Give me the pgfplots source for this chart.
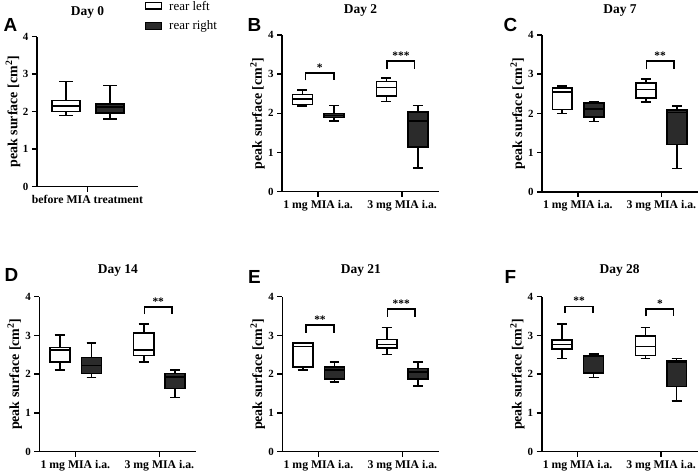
\documentclass[border=0pt]{standalone}
\usepackage{pgfplots}
\pgfplotsset{compat=1.18}
\usepgfplotslibrary{statistics}
\usepackage{fontspec}
\setmainfont{Liberation Serif}
\newfontfamily\panelfont{Liberation Sans}
\definecolor{darkbox}{HTML}{2B2B2B}

\pgfplotsset{
  panel/.style={
    scale only axis, width=157bp, height=156.7bp,
    xmin=0.5, xmax=2.5, ymin=0, ymax=4,
    axis x line*=bottom, axis y line*=left,
    axis line style={line width=1.6bp, black},
    xtick={0.96,2.03}, xticklabels={1 mg MIA i.a., 3 mg MIA i.a.},
    ytick={0,1,2,3,4},
    tick align=outside, major tick length=5bp,
    tick style={line width=1.5bp, black},
    tick label style={font=\bfseries\fontsize{11}{12}\selectfont},
    xticklabel style={font=\bfseries\fontsize{11.8}{13}\selectfont},
    /pgf/number format/assume math mode=true,
    ylabel={peak surface [cm\textsuperscript{2}]},
    ylabel style={font=\bfseries\fontsize{14}{16}\selectfont, at={(axis description cs:-0.156,0.5)}, anchor=center},
    clip=false,
    boxplot/draw direction=y,
    anchor=south west,
  },
  ttop/.style={every axis title/.style={font=\bfseries\fontsize{13.5}{15}\selectfont, at={(axis description cs:0.5,1)}, anchor=center, yshift=24bp}},
  tbot/.style={every axis title/.style={font=\bfseries\fontsize{13.5}{15}\selectfont, at={(axis description cs:0.5,1)}, anchor=center, yshift=26bp}},
  wbox/.style={draw=black, fill=white, line width=1.6bp, solid},
  dbox/.style={draw=black, fill=darkbox, line width=1.6bp, solid},
  brk/.style={black, line width=1.5bp, solid, no marks},
}
\newcommand{\bx}[7]{\addplot[#1, boxplot prepared={lower whisker=#3, lower quartile=#4, median=#5, upper quartile=#6, upper whisker=#7, draw position=#2, box extend=0.255, whisker extend=0.127}] coordinates {};}
\newcommand{\sig}[2]{\node[font=\bfseries\fontsize{11.5}{12}\selectfont, anchor=base, inner sep=0pt, yshift=1.5bp] at (axis cs:#1) {#2};}

\begin{document}
\begin{tikzpicture}[x=1bp,y=1bp]
\useasboundingbox (0,0) rectangle (700,475);

% ---------------- A ----------------
\begin{axis}[panel, ttop, at={(37bp,288.3bp)}, width=101bp, height=150bp,
  xmin=0.5, xmax=1.5, xtick={1}, xticklabels={before MIA treatment},
  ylabel style={at={(axis description cs:-0.238,0.5)}},
  title={Day 0}]
\addplot[wbox, boxplot prepared={lower whisker=1.9, lower quartile=2.0, median=2.15, upper quartile=2.3, upper whisker=2.8, draw position=0.787, box extend=0.277, whisker extend=0.13}] coordinates {};
\addplot[dbox, boxplot prepared={lower whisker=1.8, lower quartile=1.97, median=2.12, upper quartile=2.2, upper whisker=2.7, draw position=1.223, box extend=0.277, whisker extend=0.13}] coordinates {};
\end{axis}

% ---------------- B ----------------
\begin{axis}[panel, ttop, at={(282bp,283.3bp)}, title={Day 2}]
\bx{wbox}{0.76}{2.19}{2.23}{2.37}{2.48}{2.6}
\bx{dbox}{1.165}{1.8}{1.89}{1.94}{2.0}{2.2}
\bx{wbox}{1.83}{2.3}{2.45}{2.66}{2.81}{2.9}
\bx{dbox}{2.23}{0.6}{1.14}{1.8}{2.03}{2.2}
\addplot[brk] coordinates {(0.80,2.84) (0.80,3.03) (1.16,3.03) (1.16,2.84)};
\addplot[brk] coordinates {(1.84,3.13) (1.84,3.34) (2.19,3.34) (2.19,3.13)};
\sig{0.98,3.03}{*}
\sig{2.015,3.34}{***}
\end{axis}

% ---------------- C ----------------
\begin{axis}[panel, ttop, at={(542bp,283bp)}, width=156bp, height=157bp, title={Day 7}]
\bx{wbox}{0.76}{2.0}{2.1}{2.55}{2.65}{2.7}
\bx{dbox}{1.165}{1.8}{1.91}{2.11}{2.26}{2.3}
\bx{wbox}{1.83}{2.3}{2.4}{2.61}{2.78}{2.88}
\bx{dbox}{2.23}{0.6}{1.21}{2.03}{2.09}{2.19}
\addplot[brk] coordinates {(1.84,3.13) (1.84,3.34) (2.19,3.34) (2.19,3.13)};
\sig{2.015,3.34}{**}
\end{axis}

% ---------------- D ----------------
\begin{axis}[panel, tbot, at={(39.3bp,23.3bp)}, height=155bp, title={Day 14}]
\bx{wbox}{0.76}{2.11}{2.32}{2.62}{2.69}{3.01}
\bx{dbox}{1.165}{1.91}{2.02}{2.22}{2.43}{2.81}
\bx{wbox}{1.83}{2.31}{2.48}{2.62}{3.07}{3.3}
\bx{dbox}{2.23}{1.4}{1.63}{1.92}{2.02}{2.11}
\addplot[brk] coordinates {(1.84,3.55) (1.84,3.74) (2.19,3.74) (2.19,3.55)};
\sig{2.015,3.74}{**}
\end{axis}

% ---------------- E ----------------
\begin{axis}[panel, tbot, at={(282.3bp,23.3bp)}, height=155bp, title={Day 21}]
\bx{wbox}{0.76}{2.11}{2.19}{2.71}{2.8}{2.8}
\bx{dbox}{1.165}{1.8}{1.87}{2.11}{2.19}{2.31}
\bx{wbox}{1.83}{2.51}{2.68}{2.77}{2.9}{3.2}
\bx{dbox}{2.23}{1.7}{1.87}{2.05}{2.15}{2.31}
\addplot[brk] coordinates {(0.80,3.07) (0.80,3.27) (1.16,3.27) (1.16,3.07)};
\addplot[brk] coordinates {(1.84,3.48) (1.84,3.68) (2.19,3.68) (2.19,3.48)};
\sig{0.98,3.27}{**}
\sig{2.015,3.68}{***}
\end{axis}

% ---------------- F ----------------
\begin{axis}[panel, tbot, at={(541.7bp,23.3bp)}, width=156bp, height=155bp, title={Day 28}]
\bx{wbox}{0.76}{2.41}{2.65}{2.77}{2.88}{3.3}
\bx{dbox}{1.165}{1.91}{2.02}{2.03}{2.47}{2.52}
\bx{wbox}{1.83}{2.41}{2.48}{2.71}{2.99}{3.21}
\bx{dbox}{2.23}{1.31}{1.68}{2.31}{2.35}{2.41}
\addplot[brk] coordinates {(0.80,3.59) (0.80,3.75) (1.16,3.75) (1.16,3.59)};
\addplot[brk] coordinates {(1.84,3.50) (1.84,3.68) (2.19,3.68) (2.19,3.50)};
\sig{0.98,3.75}{**}
\sig{2.015,3.68}{*}
\end{axis}

% panel letters
\begin{scope}[every node/.style={font=\panelfont\bfseries\fontsize{19}{20}\selectfont, inner sep=0pt, anchor=center}]
\node at (10.5,450) {A};
\node at (254.5,450) {B};
\node at (510.5,450) {C};
\node at (11.5,200) {D};
\node at (254.5,198) {E};
\node at (510.5,198) {F};
\end{scope}

% legend
\draw[line width=1.3bp, fill=white] (145.5,466) rectangle (161.5,472.5);
\draw[line width=1.3bp, fill=darkbox] (145.5,445.5) rectangle (161.5,452.5);
\node[anchor=west, inner sep=0pt, font=\fontsize{13}{14}\selectfont] at (169,468.5) {rear left};
\node[anchor=west, inner sep=0pt, font=\fontsize{13}{14}\selectfont] at (169,449) {rear right};
\end{tikzpicture}
\end{document}
